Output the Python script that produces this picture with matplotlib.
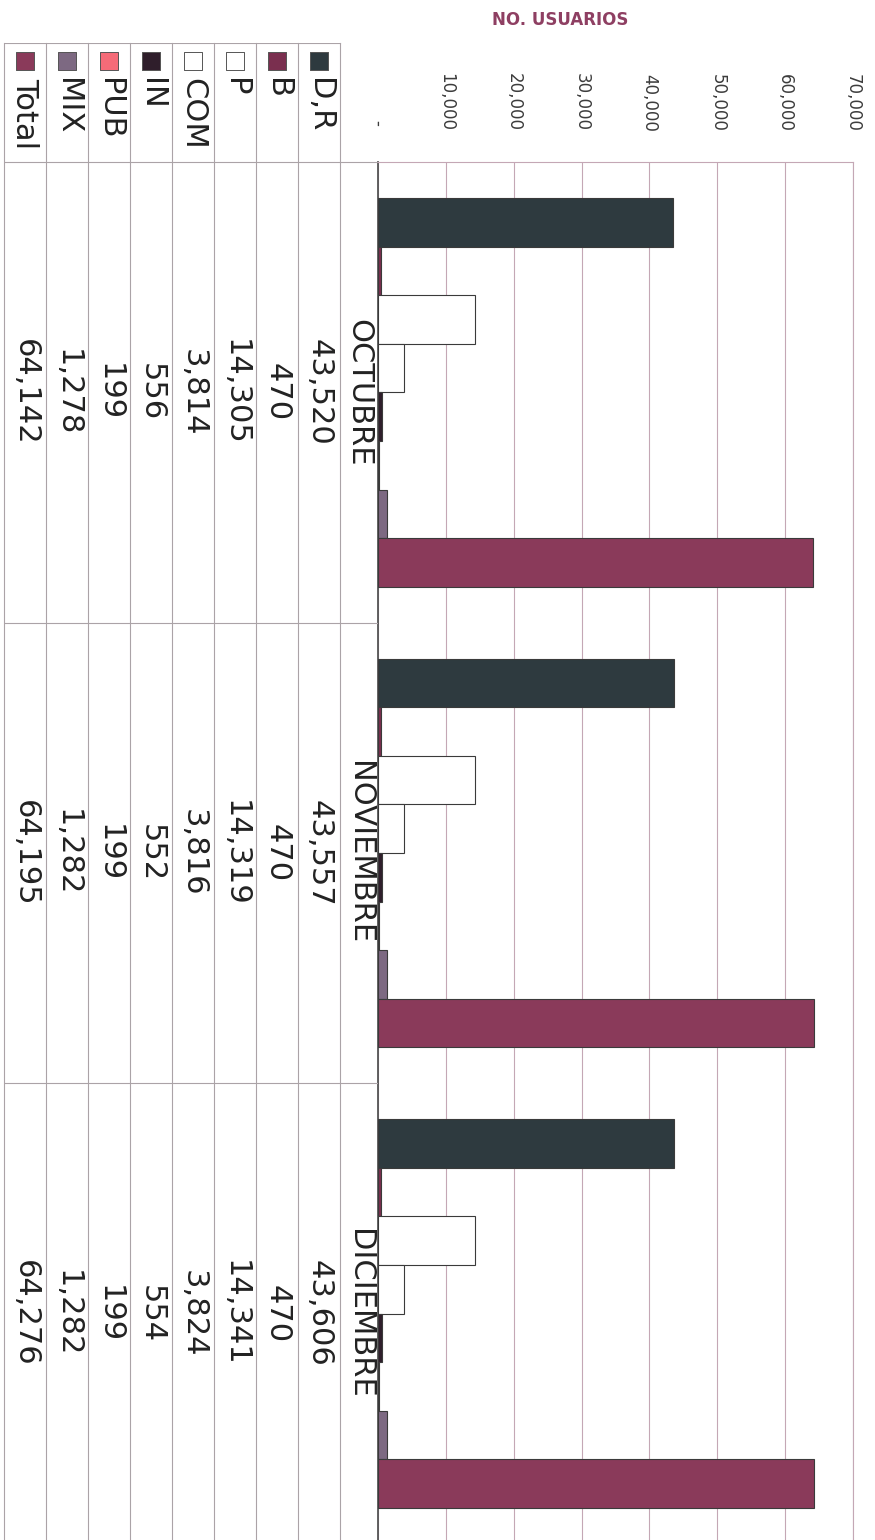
import numpy as np
import matplotlib
matplotlib.use("Agg")
import matplotlib.pyplot as plt
from matplotlib.ticker import FuncFormatter

# data
months = ["OCTUBRE", "NOVIEMBRE", "DICIEMBRE"]
series = ["D,R", "B", "P", "COM", "IN", "PUB", "MIX", "Total"]
dr = [43520, 43557, 43606]
b = [470, 470, 470]
p = [14305, 14319, 14341]
com = [3814, 3816, 3824]
inn = [556, 552, 554]
pub = [199, 199, 199]
mix = [1278, 1282, 1282]
total = [64142, 64195, 64276]
values = [dr, b, p, com, inn, pub, mix, total]
colors = ["#2E3A3F", "#7A2F4F", "#FFFFFF", "#FFFFFF", "#2F1E2B", "#F56B78", "#7D6982", "#8A3A5A"]
xticks = [0, 10000, 20000, 30000, 40000, 50000, 60000, 70000]

plt.rcParams['font.family'] = ['DejaVu Sans']

W, H = 875, 1540
fig = plt.figure(figsize=(W / 100, H / 100), dpi=100)

grid_col = "#C4A7B5"
table_col = "#ABA3A7"
text_col = "#222222"

# layout in pixels
plot_left, plot_right, plot_top, plot_bottom = 378, 853, 162, 1544
table_left, table_top = 4, 43
row_w = 42
cat_px = (plot_bottom - plot_top) / 3

# main chart
ax = fig.add_axes([plot_left / W, (H - plot_bottom) / H,
                   (plot_right - plot_left) / W, (plot_bottom - plot_top) / H])
bar_h = 0.1055
ypos = np.arange(len(months))
for j, (name, vals) in enumerate(zip(series, values)):
    ax.barh(ypos + (j - 3.5) * bar_h, vals, height=bar_h, color=colors[j],
            edgecolor="#3A3A3A", linewidth=0.8, zorder=3)

ax.set_xlim(0, 70000)
ax.set_ylim(2.5, -0.5)
ax.set_xticks(xticks)
ax.xaxis.set_major_formatter(FuncFormatter(lambda v, pos: "- " if v == 0 else f"{v:,.0f}"))
ax.set_yticks([])
ax.tick_params(axis='x', top=True, bottom=False, labeltop=True, labelbottom=False,
               length=0, pad=22, labelsize=12, labelcolor="#3C3C3C", labelrotation=-90)
ax.grid(axis='x', color=grid_col, linewidth=0.8, zorder=0)
ax.set_axisbelow(True)
ax.spines['bottom'].set_visible(False)
ax.spines['top'].set_color(grid_col)
ax.spines['top'].set_linewidth(0.8)
ax.spines['right'].set_color(grid_col)
ax.spines['right'].set_linewidth(0.8)
ax.spines['left'].set_color("#555555")
ax.spines['left'].set_linewidth(1.3)

# data table on the left
hdr_w = (plot_left - table_left) / row_w - len(series)
hdr_h = (plot_top - table_top) / cat_px
tax = fig.add_axes([table_left / W, (H - plot_bottom) / H,
                    (plot_left - table_left) / W, (plot_bottom - table_top) / H])
tax.set_xlim(0, len(series) + hdr_w)
tax.set_ylim(2.5, -0.5 - hdr_h)
tax.axis('off')

def py(px):
    return -0.5 - hdr_h + (px - table_top) / cat_px

n = len(series)
for k in range(n + 1):
    tax.plot([k, k], [py(table_top), 2.5], color=table_col, lw=0.8, clip_on=False)
tax.plot([0, n], [py(table_top), py(table_top)], color=table_col, lw=0.8)
for yb in [-0.5, 0.5, 1.5]:
    tax.plot([0, n + hdr_w], [yb, yb], color=table_col, lw=0.8)

for k, (name, vals) in enumerate(zip(series, values)):
    xc = n - k - 0.5
    tax.scatter([xc], [py(61)], marker='s', s=150, color=colors[k],
                edgecolors="#555555", linewidths=0.7, clip_on=False, zorder=4)
    tax.text(xc, py(78), name, rotation=-90, ha='center', va='top',
             fontsize=22, color=text_col)
    for i, v in enumerate(vals):
        tax.text(xc, i, f"{v:,}", rotation=-90, ha='center', va='center',
                 fontsize=22, color=text_col)

for i, m in enumerate(months):
    tax.text(n + hdr_w / 2, i, m, rotation=-90, ha='center', va='center',
             fontsize=22, color=text_col)

fig.text(560 / W, 1 - 20 / H, "NO. USUARIOS", ha='center', va='center',
         fontsize=12, fontweight='bold', color="#8E3F62")

fig.savefig("out.png", dpi=100, facecolor="white")
